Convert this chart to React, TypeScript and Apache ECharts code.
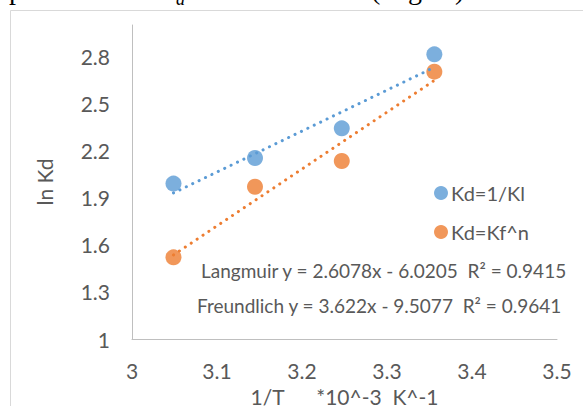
import React, { useEffect, useRef } from "react";
import * as echarts from "echarts";

const xValues = [3.0488, 3.1447, 3.2468, 3.3557];
const langmuirY = [1.99, 2.153, 2.342, 2.813];
const freundlichY = [1.52, 1.97, 2.134, 2.703];
const seriesNames = ["Kd=1/Kl", "Kd=Kf^n"];
const langmuirFit = { slope: 2.6078, intercept: -6.0205 };
const freundlichFit = { slope: 3.622, intercept: -9.5077 };
const equationTexts = [
  "Langmuir y = 2.6078x - 6.0205  R\u00b2 = 0.9415",
  "Freundlich y = 3.622x - 9.5077  R\u00b2 = 0.9641",
];
const yTickLabels = ["1", "1.3", "1.6", "1.9", "2.2", "2.5", "2.8"];
const xTickLabels = ["3", "3.1", "3.2", "3.3", "3.4", "3.5"];
const xAxisTitle = "1/T      *10^-3  K^-1";
const yAxisTitle = "ln Kd";

const BLUE = "#5B9BD5";
const ORANGE = "#ED7D31";
const TEXT = "#595959";
const FONT = "Lato";
const SERIF = "Liberation Serif";

export default function App() {
  const ref = useRef<HTMLDivElement>(null);
  useEffect(() => {
    if (!ref.current) return;
    const chart = echarts.init(ref.current, undefined, { renderer: "svg" });
    const pts = (ys: number[]) => xValues.map((x, i) => [x, ys[i]]);
    const x0 = Math.min(...xValues);
    const x1 = Math.max(...xValues);
    const fitLine = (f: { slope: number; intercept: number }) => [
      [x0, f.slope * x0 + f.intercept],
      [x1, f.slope * x1 + f.intercept],
    ];
    const trendStyle = (c: string) => ({
      color: c,
      width: 3,
      type: [0.1, 7] as any,
      cap: "round" as any,
    });
    // fragments of the document text above the chart, mostly cropped away
    const serifFrag = (t: string, x: number, baseline: number, size: number, italic = false) => ({
      type: "text",
      silent: true,
      style: {
        text: t,
        x,
        y: baseline - 0.3375 * size,
        fill: "#000",
        fontSize: size,
        fontFamily: SERIF,
        fontStyle: italic ? "italic" : "normal",
        verticalAlign: "middle",
        align: "left",
      },
    });
    chart.setOption({
      animation: false,
      textStyle: { fontFamily: FONT },
      grid: {
        left: 132,
        right: 26,
        top: 25,
        bottom: 67,
        containLabel: false,
        outerBoundsMode: "none",
      },
      xAxis: {
        type: "value",
        min: 3,
        max: 3.5,
        interval: 0.1,
        name: xAxisTitle,
        nameLocation: "middle",
        nameGap: 43,
        nameTextStyle: { color: TEXT, fontSize: 21, fontFamily: FONT },
        axisLine: { show: true, lineStyle: { color: "#BFBFBF", width: 1 } },
        axisTick: { show: false },
        splitLine: { show: false },
        axisLabel: {
          color: TEXT,
          fontSize: 21,
          fontFamily: FONT,
          margin: 21,
          formatter: (v: number) => {
            const i = Math.round((v - 3) * 10);
            return xTickLabels[i] ?? "";
          },
        },
      },
      yAxis: {
        type: "value",
        min: 1,
        max: 3,
        interval: 0.1,
        name: yAxisTitle,
        nameLocation: "middle",
        nameGap: 77,
        nameRotate: 90,
        nameTextStyle: { color: TEXT, fontSize: 21, fontFamily: FONT },
        axisLine: { show: true, lineStyle: { color: "#BFBFBF", width: 1 } },
        axisTick: { show: false },
        splitLine: { show: false },
        axisLabel: {
          color: TEXT,
          fontSize: 21,
          fontFamily: FONT,
          margin: 22,
          formatter: (v: number) => {
            const k = Math.round((v - 1) * 10);
            if (k % 3 !== 0) return "";
            return yTickLabels[k / 3] ?? "";
          },
        },
      },
      legend: {
        orient: "vertical",
        left: 429,
        top: 178,
        itemGap: 19,
        icon: "circle",
        itemWidth: 14,
        itemHeight: 14,
        data: seriesNames,
        textStyle: { color: TEXT, fontSize: 20, fontFamily: FONT, padding: [0, 0, 0, -2] },
      },
      graphic: [
        {
          type: "rect",
          silent: true,
          shape: { x: 10.5, y: 10.5, width: 700, height: 500 },
          style: { fill: "none", stroke: "#D9D9D9", lineWidth: 1 },
          z: -10,
        },
        serifFrag("p", 9, -1, 28),
        serifFrag("a", 176, 5, 18, true),
        serifFrag("(", 371, -1, 28),
        serifFrag("g", 408, -1, 28),
        serifFrag(")", 455, -1, 28),
        {
          type: "text",
          left: 201,
          top: 261,
          style: { text: equationTexts[0], fill: TEXT, fontSize: 19, fontFamily: FONT },
        },
        {
          type: "text",
          left: 197,
          top: 296,
          style: { text: equationTexts[1], fill: TEXT, fontSize: 19, fontFamily: FONT },
        },
      ],
      series: [
        {
          name: seriesNames[0],
          type: "scatter",
          symbolSize: 16,
          itemStyle: { color: BLUE },
          data: pts(langmuirY),
          z: 2,
        },
        {
          name: seriesNames[1],
          type: "scatter",
          symbolSize: 16,
          itemStyle: { color: ORANGE },
          data: pts(freundlichY),
          z: 2,
        },
        {
          name: "Langmuir trend",
          type: "line",
          symbol: "none",
          lineStyle: trendStyle(BLUE),
          data: fitLine(langmuirFit),
          z: 3,
          silent: true,
        },
        {
          name: "Freundlich trend",
          type: "line",
          symbol: "none",
          lineStyle: trendStyle(ORANGE),
          data: fitLine(freundlichFit),
          z: 3,
          silent: true,
        },
      ],
    });
    return () => chart.dispose();
  }, []);
  return <div ref={ref} style={{ width: 583, height: 406, position: "fixed", left: 0, top: 0, background: "#fff" }} />;
}
